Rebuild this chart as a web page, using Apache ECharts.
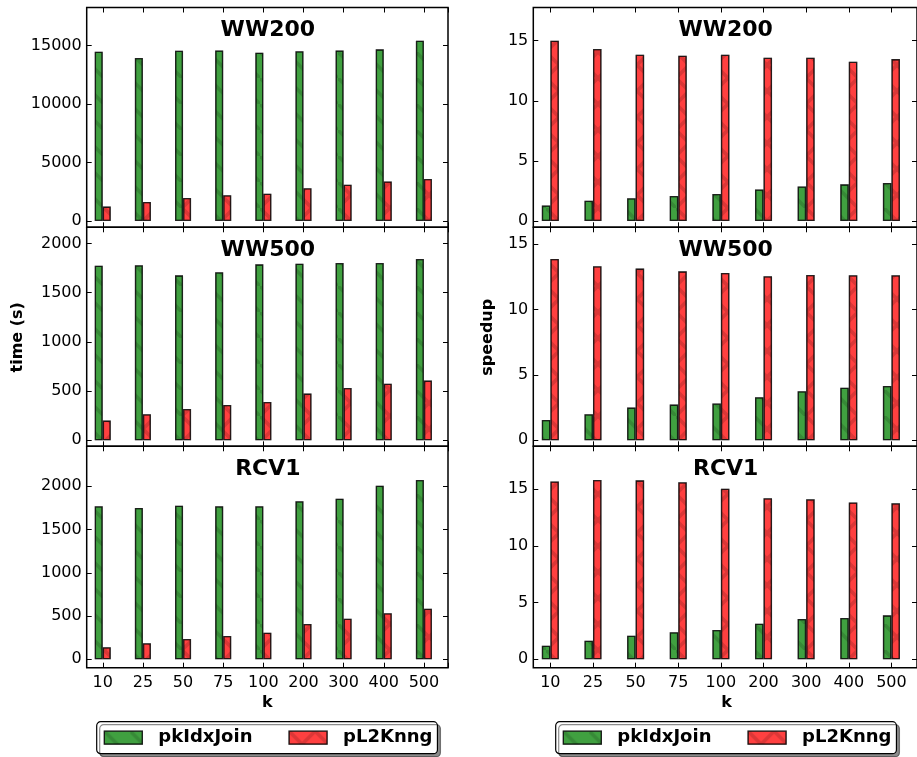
<!DOCTYPE html>
<html>
<head>
<meta charset="utf-8">
<script src="https://cdn.jsdelivr.net/npm/echarts@6/dist/echarts.min.js"></script>
<style>
html, body { margin: 0; padding: 0; background: #fff; }
#chart { width: 917px; height: 757px; }
</style>
</head>
<body>
<div id="chart"></div>
<script>
var kLabels = ['10', '25', '50', '75', '100', '200', '300', '400', '500'];

// time (s)
var timeWW200Join = [14490, 13950, 14570, 14600, 14400, 14520, 14600, 14690, 15430];
var timeWW200Knng = [1230, 1630, 1970, 2200, 2340, 2800, 3110, 3390, 3590];
var timeWW500Join = [1773, 1777, 1675, 1706, 1787, 1794, 1800, 1800, 1841];
var timeWW500Knng = [200, 264, 318, 359, 389, 474, 531, 575, 606];
var timeRCV1Join = [1769, 1750, 1776, 1769, 1769, 1827, 1857, 2008, 2073];
var timeRCV1Knng = [139, 185, 235, 270, 308, 408, 470, 532, 586];

// speedup
var spWW200Join = [1.30, 1.69, 1.89, 2.08, 2.25, 2.63, 2.88, 3.05, 3.16];
var spWW200Knng = [15.0, 14.31, 13.83, 13.75, 13.83, 13.58, 13.58, 13.25, 13.47];
var spWW500Join = [1.56, 1.99, 2.50, 2.73, 2.81, 3.29, 3.75, 4.03, 4.16];
var spWW500Knng = [13.88, 13.32, 13.14, 12.93, 12.81, 12.55, 12.65, 12.63, 12.63];
var spRCV1Join = [1.20, 1.64, 2.08, 2.38, 2.58, 3.14, 3.55, 3.64, 3.87];
var spRCV1Knng = [15.67, 15.79, 15.76, 15.59, 15.03, 14.18, 14.09, 13.82, 13.74];

var FONT = 'DejaVu Sans';
var colLeft = [86.7, 533.3], colWidth = [361.3, 383.7];
var rowTop = [7.5, 227.3, 446.3], rowHeight = [219.8, 219, 221.4];

var panels = [
    {title: 'WW200', col: 0, row: 0, join: timeWW200Join, knng: timeWW200Knng, min: -540, max: 18270, step: 5000},
    {title: 'WW500', col: 0, row: 1, join: timeWW500Join, knng: timeWW500Knng, min: -61, max: 2163, step: 500},
    {title: 'RCV1',  col: 0, row: 2, join: timeRCV1Join,  knng: timeRCV1Knng,  min: -97, max: 2463, step: 500},
    {title: 'WW200', col: 1, row: 0, join: spWW200Join, knng: spWW200Knng, min: -0.52, max: 17.76, step: 5},
    {title: 'WW500', col: 1, row: 1, join: spWW500Join, knng: spWW500Knng, min: -0.46, max: 16.3, step: 5},
    {title: 'RCV1',  col: 1, row: 2, join: spRCV1Join,  knng: spRCV1Knng,  min: -0.74, max: 18.76, step: 5}
];

var edge = 'rgba(0,0,0,0.6)';
var greenStyle = {
    color: 'rgb(64,160,64)', borderColor: edge, borderWidth: 1.3,
    decal: {
        symbol: 'path://M0,0L2,0L20,18L20,20L18,20L0,2Z',
        symbolSize: 1, symbolKeepAspect: false,
        color: 'rgba(0,0,0,0.14)',
        dashArrayX: [26, 0], dashArrayY: [26, 0]
    }
};
var redStyle = {
    color: 'rgb(255,64,64)', borderColor: edge, borderWidth: 1.3,
    decal: {
        symbol: 'path://M0,0L2,0L20,18L20,20L18,20L0,2Z M18,0L20,0L20,2L2,20L0,20L0,18Z',
        symbolSize: 1, symbolKeepAspect: false,
        color: 'rgba(0,0,0,0.14)',
        dashArrayX: [26, 0], dashArrayY: [26, 0]
    }
};

var tick = {show: true, inside: true, length: 5, lineStyle: {color: '#000', width: 1}};
var noLine = {show: false, onZero: false};

var grids = [], xAxes = [], yAxes = [], series = [], graphics = [];
panels.forEach(function (p, i) {
    grids.push({
        left: colLeft[p.col], top: rowTop[p.row], width: colWidth[p.col], height: rowHeight[p.row],
        show: true, borderColor: '#000', borderWidth: 1.5, backgroundColor: 'transparent',
        containLabel: false, outerBoundsMode: 'none'
    });
    var yFmt = function (v) {
        var r = v / p.step;
        return Math.abs(r - Math.round(r)) < 1e-6 ? String(Math.round(r) * p.step) : '';
    };
    var xFmt = function (v) {
        return Math.abs(v - Math.round(v)) < 1e-6 ? (kLabels[Math.round(v)] || '') : '';
    };
    ['bottom', 'top'].forEach(function (pos) {
        xAxes.push({
            gridIndex: i, type: 'value', position: pos, min: -0.4, max: 8.6,
            minInterval: 1, maxInterval: 1,
            axisLine: noLine, axisTick: tick, splitLine: {show: false},
            axisLabel: {
                show: pos === 'bottom' && p.row === 2, formatter: xFmt, margin: 7,
                fontSize: 16, fontFamily: FONT, color: '#000'
            }
        });
    });
    ['left', 'right'].forEach(function (pos) {
        yAxes.push({
            gridIndex: i, type: 'value', position: pos, min: p.min, max: p.max,
            minInterval: p.step, maxInterval: p.step,
            axisLine: noLine, axisTick: tick, splitLine: {show: false},
            axisLabel: {
                show: pos === 'left', formatter: yFmt, margin: 5,
                fontSize: 16, fontFamily: FONT, color: '#000'
            }
        });
    });
    series.push({
        type: 'bar', name: 'pkIdxJoin', xAxisIndex: 2 * i, yAxisIndex: 2 * i,
        data: p.join.map(function (v, j) { return [j, v]; }),
        barWidth: '20%', barGap: '0%', itemStyle: greenStyle
    });
    series.push({
        type: 'bar', name: 'pL2Knng', xAxisIndex: 2 * i, yAxisIndex: 2 * i,
        data: p.knng.map(function (v, j) { return [j, v]; }),
        barWidth: '20%', barGap: '0%', itemStyle: redStyle
    });
    graphics.push({
        type: 'text', x: colLeft[p.col] + colWidth[p.col] / 2 + 0.5, y: rowTop[p.row] + 22.5,
        style: {text: p.title, fontSize: 22, fontWeight: 'bold', fontFamily: FONT, fill: '#000',
                align: 'center', verticalAlign: 'middle'}
    });
});

var labelStyle = {fontSize: 16, fontWeight: 'bold', fontFamily: FONT, fill: '#000', align: 'center', verticalAlign: 'middle'};
graphics.push({type: 'text', x: 18.3, y: 337.3, rotation: Math.PI / 2, style: Object.assign({text: 'time (s)'}, labelStyle)});
graphics.push({type: 'text', x: 488.3, y: 337.3, rotation: Math.PI / 2, style: Object.assign({text: 'speedup'}, labelStyle)});
graphics.push({type: 'text', x: 267.3, y: 703.3, style: Object.assign({text: 'k'}, labelStyle)});
graphics.push({type: 'text', x: 726.5, y: 703.3, style: Object.assign({text: 'k'}, labelStyle)});

function makeLegend(left) {
    return {
        data: ['pkIdxJoin', 'pL2Knng'], left: left, top: 721.7, orient: 'horizontal',
        itemWidth: 38, itemHeight: 13, itemGap: 36, padding: [6, 5, 6, 7],
        borderColor: '#000', borderWidth: 1.2, borderRadius: 4, backgroundColor: '#fff',
        shadowColor: 'rgba(0,0,0,0.45)', shadowOffsetX: 3, shadowOffsetY: 3, shadowBlur: 0,
        selectedMode: false, icon: 'rect',
        itemStyle: {borderColor: edge, borderWidth: 1.3},
        textStyle: {fontSize: 18, fontWeight: 'bold', fontFamily: FONT, color: '#000',
                    lineHeight: 20, padding: [0, 0, 0, 11]}
    };
}

var myChart = echarts.init(document.getElementById('chart'), null, {renderer: 'canvas'});
var option = {
    animation: false,
    backgroundColor: '#fff',
    grid: grids,
    xAxis: xAxes,
    yAxis: yAxes,
    series: series,
    legend: [makeLegend(96.7), makeLegend(555.7)],
    graphic: graphics
};
myChart.setOption(option);
</script>
</body>
</html>
